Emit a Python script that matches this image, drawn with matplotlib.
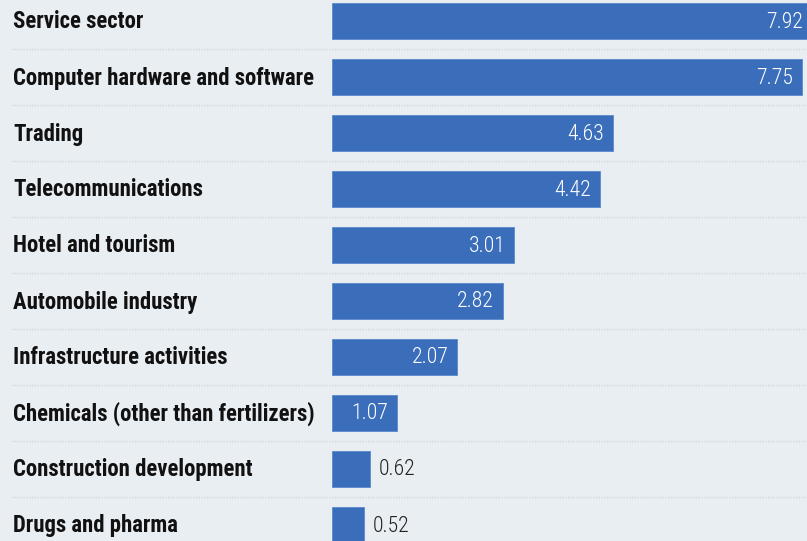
import matplotlib
matplotlib.use("Agg")
import matplotlib.pyplot as plt
from matplotlib import font_manager
from matplotlib.transforms import blended_transform_factory
from matplotlib.lines import Line2D

categories = ["Service sector", "Computer hardware and software", "Trading",
              "Telecommunications", "Hotel and tourism", "Automobile industry",
              "Infrastructure activities", "Chemicals (other than fertilizers)",
              "Construction development", "Drugs and pharma"]
values = [7.92, 7.75, 4.63, 4.42, 3.01, 2.82, 2.07, 1.07, 0.62, 0.52]
value_labels = ["7.92", "7.75", "4.63", "4.42", "3.01", "2.82", "2.07", "1.07", "0.62", "0.52"]

names = {f.name for f in font_manager.fontManager.ttflist}


def pick(cands):
    for c in cands:
        if c in names:
            return c
    return "DejaVu Sans"


label_font = pick(["Roboto Condensed", "Barlow Condensed", "Asap Condensed", "Archivo Narrow",
                   "Liberation Sans Narrow", "DejaVu Sans"])
value_font = pick(["Roboto Condensed", "Barlow Condensed", "Asap Condensed", "Archivo Narrow",
                   "Liberation Sans Narrow", "DejaVu Sans"])

BG = "#e9eef3"
BAR = "#3a6ebb"

W, H = 807, 541
fig = plt.figure(figsize=(W / 100, H / 100), dpi=100, facecolor=BG)
left_px = 332
ax = fig.add_axes([left_px / W, 0, 1 - left_px / W, 1])
ax.set_facecolor(BG)
px_per_unit = 60.6
ax.set_xlim(0, (W - left_px) / px_per_unit)
row = 56
ax.set_ylim((H - 21) / row, -21 / row)
for s in ax.spines.values():
    s.set_visible(False)
ax.set_xticks([])
ax.set_yticks([])

ypos = list(range(len(categories)))
ax.barh(ypos, values, height=0.645, color=BAR, edgecolor="#5a88cc", linewidth=0.6, zorder=2)

renderer = fig.canvas.get_renderer()


def fit_size(s, family, weight, target_px, base=15):
    t = fig.text(0, 0, s, fontsize=base, family=family, fontweight=weight)
    w = t.get_window_extent(renderer).width
    t.remove()
    return base * target_px / w


lab_fs = fit_size("Computer hardware and software", label_font, "bold", 302)
val_fs = fit_size("4.63", value_font, "light", 37)

trans = blended_transform_factory(fig.transFigure, ax.transData)
for i, (c, v, lab) in enumerate(zip(categories, values, value_labels)):
    fig.text(13 / W, i + 1.0 / row, c, transform=trans, ha="left", va="center",
             fontsize=lab_fs, fontweight="bold", family=[label_font, "DejaVu Sans"],
             color="#111111")
    if v > 1:
        ax.annotate(lab, (v, i), xytext=(-9, -1), textcoords="offset pixels",
                    ha="right", va="center", color="white", fontsize=val_fs, fontweight="light",
                    family=[value_font, "DejaVu Sans"], annotation_clip=False, zorder=3)
    else:
        ax.annotate(lab, (v, i), xytext=(9, -1), textcoords="offset pixels",
                    ha="left", va="center", color="#222222", fontsize=val_fs, fontweight="light",
                    family=[value_font, "DejaVu Sans"], annotation_clip=False, zorder=3)

for i in range(len(categories) - 1):
    fig.add_artist(Line2D([12 / W, 1], [i + 0.5, i + 0.5], transform=trans,
                          color="#cfd6dd", linewidth=1.0, linestyle=(0, (1, 1)), zorder=1))

fig.savefig("out.png", dpi=100, facecolor=BG)
